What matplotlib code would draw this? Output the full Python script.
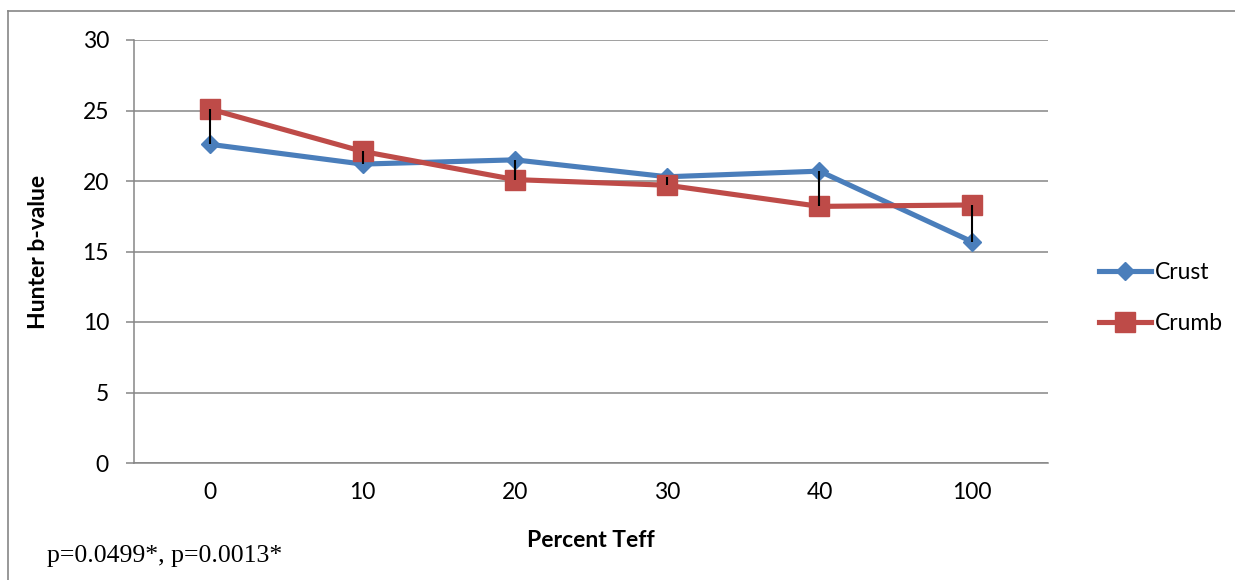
import numpy as np
import matplotlib.pyplot as plt
from matplotlib.lines import Line2D

categories = ['0', '10', '20', '30', '40', '100']
crust = [22.6, 21.2, 21.5, 20.3, 20.7, 15.7]
crumb = [25.1, 22.1, 20.1, 19.7, 18.2, 18.3]

blue = '#4a7ebb'
red = '#be4b48'
grid_c = '#868686'

plt.rcParams['font.family'] = ['Lato', 'DejaVu Sans']

fig = plt.figure(figsize=(12.35, 5.8), dpi=100)
ax = fig.add_axes([134/1235, 1-463/580, (1048-134)/1235, (463-40)/580])

x = np.arange(len(categories))
ax.plot(x, crust, color=blue, lw=3.7, marker='D', ms=9.5, label='Crust', zorder=3)
ax.plot(x, crumb, color=red, lw=3.7, marker='s', ms=14, label='Crumb', zorder=3)
# high-low lines between the two series
ax.vlines(x, np.minimum(crust, crumb), np.maximum(crust, crumb), color='black', lw=1.5, zorder=4)

ax.set_xlim(-0.5, 5.5)
ax.set_ylim(0, 30)
ax.set_yticks(range(0, 31, 5))
ax.set_xticks(x)
ax.set_xticklabels(categories)
ax.yaxis.grid(True, color=grid_c, lw=1.1)
ax.set_axisbelow(True)
for s in ['top', 'right']:
    ax.spines[s].set_visible(False)
for s in ['left', 'bottom']:
    ax.spines[s].set_color(grid_c)
    ax.spines[s].set_linewidth(1.1)
ax.tick_params(axis='y', length=6, color=grid_c, width=1.1, labelsize=16.5, pad=12)
ax.tick_params(axis='x', length=0, labelsize=16.5, pad=14)

ax.set_xlabel('Percent Teff', fontsize=16.5, fontweight='bold', labelpad=19)
ax.set_ylabel('Hunter b-value', fontsize=16.5, fontweight='bold', labelpad=24)

fig.legend(loc='center left', bbox_to_anchor=(1078/1235, 1-298/580), frameon=False,
           fontsize=16.5, handlelength=2.3, labelspacing=1.35, handletextpad=0.15)

fig.text(47/1235, 1-556/580, 'p=0.0499*, p=0.0013*', family='Liberation Serif',
         fontsize=18.5, va='center', ha='left')

# outer chart frame (top and left edges)
fig.add_artist(Line2D([8/1235, 1], [1-11/580, 1-11/580], color=grid_c, lw=1.2, transform=fig.transFigure))
fig.add_artist(Line2D([8/1235, 8/1235], [1-11/580, 0], color=grid_c, lw=1.2, transform=fig.transFigure))

fig.savefig('out.png', dpi=100)
